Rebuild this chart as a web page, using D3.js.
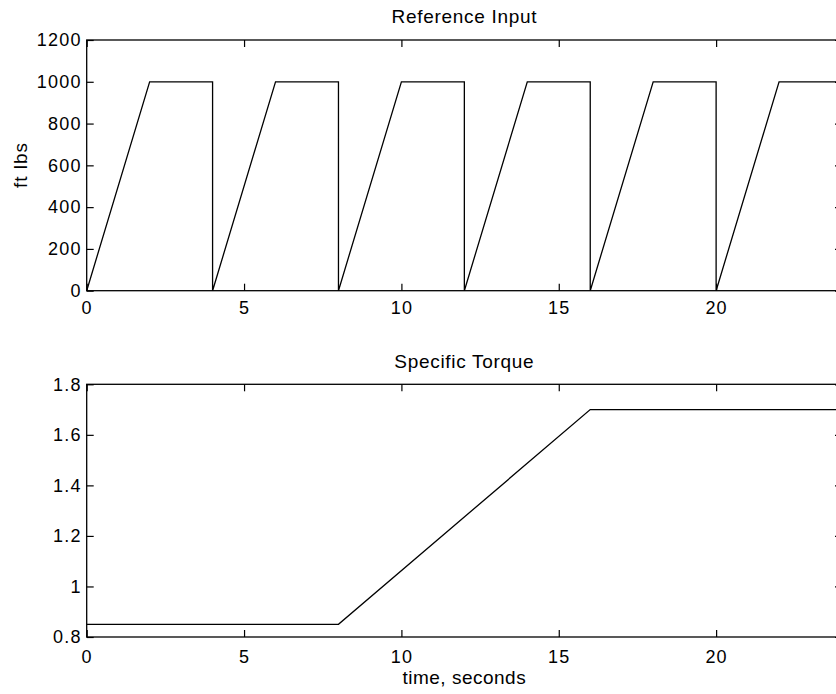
<!DOCTYPE html>
<html>
<head>
<meta charset="utf-8">
<script src="https://cdn.jsdelivr.net/npm/d3@7"></script>
<style>
  html, body { margin: 0; padding: 0; background: #fff; overflow: hidden; }
  svg { display: block; }
  text { font-family: "Liberation Sans", Arial, Helvetica, sans-serif; fill: #000; }
</style>
</head>
<body>
<svg id="chart" width="836" height="694"></svg>
<script>
// ---- data ----
const refTime  = [0, 2, 4, 4, 6, 8, 8, 10, 12, 12, 14, 16, 16, 18, 20, 20, 22, 24];
const refValue = [0, 1000, 1000, 0, 1000, 1000, 0, 1000, 1000, 0, 1000, 1000, 0, 1000, 1000, 0, 1000, 1000];
const torqueTime  = [0, 8, 16, 24];
const torqueValue = [0.85, 0.85, 1.7, 1.7];
const xTicks = [0, 5, 10, 15, 20];
const refYTicks = [0, 200, 400, 600, 800, 1000, 1200];
const torqueYTicks = [0.8, 1, 1.2, 1.4, 1.6, 1.8];
const torqueYLabels = ["0.8", "1", "1.2", "1.4", "1.6", "1.8"];

const svg = d3.select("#chart");
const FS = 18;

const x = d3.scaleLinear().domain([0, 24]).range([86.7, 842]);

function panel(opts) {
  const y = d3.scaleLinear().domain(opts.yDomain).range([opts.bottom, opts.top]);
  const g = svg.append("g");
  const [x0, x1] = x.range();

  // frame
  g.append("rect")
    .attr("x", x0).attr("y", opts.top)
    .attr("width", x1 - x0).attr("height", opts.bottom - opts.top)
    .attr("fill", "none").attr("stroke", "#000").attr("stroke-width", 1.3);

  const bx = g.append("g").attr("transform", `translate(0,${opts.bottom})`)
    .call(d3.axisBottom(x).tickValues(xTicks).tickSize(-7).tickPadding(opts.xPad).tickFormat(d3.format("d")));
  const tx = g.append("g").attr("transform", `translate(0,${opts.top})`)
    .call(d3.axisTop(x).tickValues(xTicks).tickSize(-7).tickFormat(""));
  const ly = g.append("g").attr("transform", `translate(${x0},0)`)
    .call(d3.axisLeft(y).tickValues(opts.yTicks).tickSize(-7).tickPadding(5)
      .tickFormat((d, i) => opts.yLabels[i]));
  const ry = g.append("g").attr("transform", `translate(${x1},0)`)
    .call(d3.axisRight(y).tickValues(opts.yTicks).tickSize(-7).tickFormat(""));

  [bx, tx, ly, ry].forEach(a => {
    a.select(".domain").remove();
    a.selectAll("line").attr("stroke", "#000").attr("stroke-width", 1.2);
    a.selectAll("text").attr("font-size", FS).attr("fill", "#000")
      .attr("letter-spacing", 1.2)
      .attr("font-family", "'Liberation Sans', Arial, sans-serif");
  });

  const pts = opts.xs.map((t, i) => [t, opts.ys[i]]);
  g.append("path")
    .datum(pts)
    .attr("fill", "none").attr("stroke", "#000").attr("stroke-width", 1.3)
    .attr("d", d3.line().x(d => x(d[0])).y(d => y(d[1])));

  g.append("text")
    .attr("x", (x0 + x1) / 2).attr("y", opts.titleY)
    .attr("text-anchor", "middle").attr("font-size", 19)
    .attr("letter-spacing", 0.7)
    .text(opts.title);
  return { g, y };
}

panel({
  top: 40, bottom: 290.7, yDomain: [0, 1200],
  yTicks: refYTicks, yLabels: refYTicks.map(String),
  xs: refTime, ys: refValue, title: "Reference Input", titleY: 23, xPad: 11
});

panel({
  top: 384.3, bottom: 637, yDomain: [0.8, 1.8],
  yTicks: torqueYTicks, yLabels: torqueYLabels,
  xs: torqueTime, ys: torqueValue, title: "Specific Torque", titleY: 368, xPad: 13
});

svg.append("text")
  .attr("transform", `translate(27,165) rotate(-90)`)
  .attr("text-anchor", "middle").attr("font-size", 19)
  .attr("letter-spacing", 1)
  .text("ft lbs");

svg.append("text")
  .attr("x", (x.range()[0] + x.range()[1]) / 2).attr("y", 684)
  .attr("text-anchor", "middle").attr("font-size", 19)
  .attr("letter-spacing", 0.5)
  .text("time, seconds");
</script>
</body>
</html>
